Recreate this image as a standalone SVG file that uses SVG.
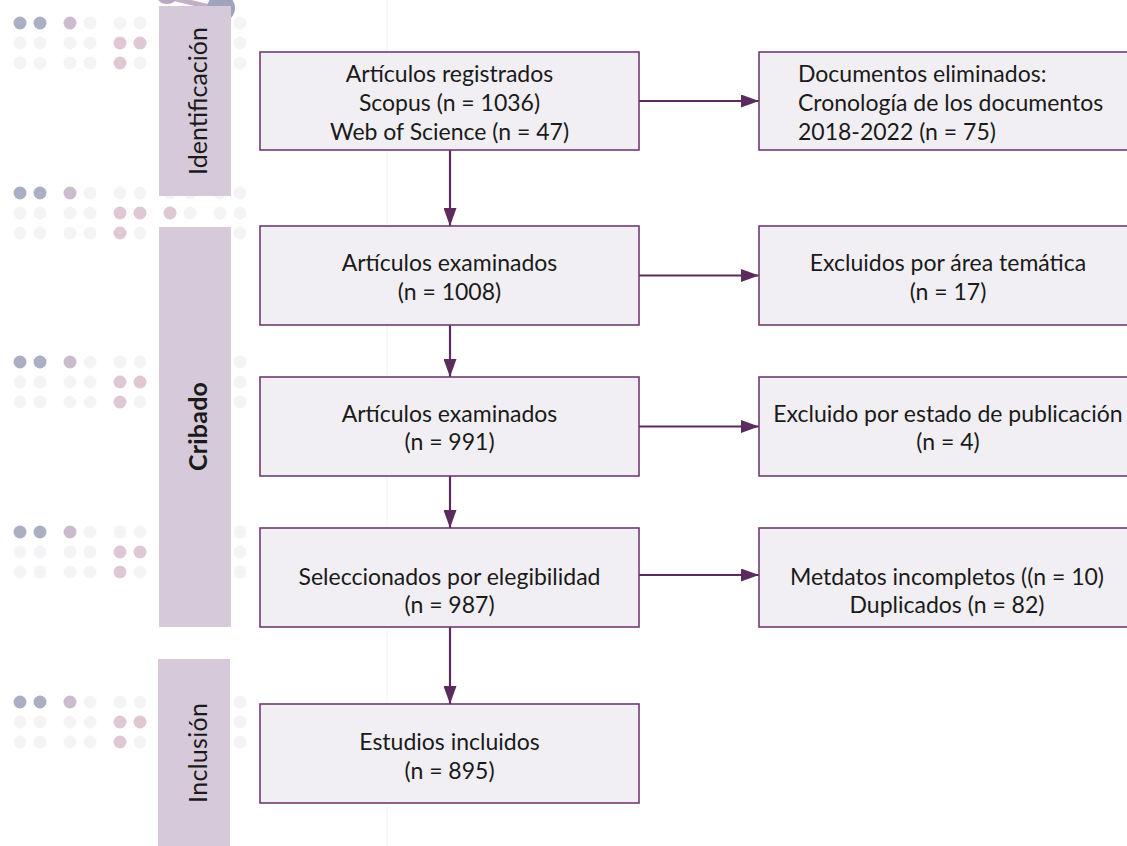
<svg xmlns="http://www.w3.org/2000/svg" width="1127" height="846" viewBox="0 0 1127 846">
<defs>
<style>
.box{fill:#f1eff3;stroke:#6e3d71;stroke-width:1.6}
.band{fill:#d6c9d9}
.t{font-family:Lato,"Open Sans","Liberation Sans",sans-serif;font-size:23px;fill:#1a1a1a}
.c{text-anchor:middle}
.side{font-family:Lato,"Open Sans","Liberation Sans",sans-serif;font-size:25px;fill:#1a1a1a;text-anchor:middle}
.conn{stroke:#5b2b5e;stroke-width:2.2;fill:none}
.f{fill:#f4f3f6}
.g{fill:#abafc4}
.m{fill:#cbbccd}
.p{fill:#dfc7d3}
</style>
<marker id="ah" markerUnits="userSpaceOnUse" markerWidth="19" markerHeight="13" refX="18" refY="6.5" orient="auto">
<path d="M0,0 L18,6.5 L0,13 Z" fill="#5b2b5e"/>
</marker>
<g id="dotgroup">
<circle class="g" cx="20" cy="0" r="6.5"/><circle class="g" cx="40" cy="0" r="6.5"/><circle class="m" cx="70" cy="0" r="6.5"/><circle class="f" cx="90" cy="0" r="6.5"/><circle class="f" cx="120" cy="0" r="6.5"/><circle class="f" cx="140" cy="0" r="6.5"/><circle class="f" cx="170" cy="0" r="6.5"/><circle class="f" cx="190" cy="0" r="6.5"/><circle class="f" cx="220" cy="0" r="6.5"/><circle class="f" cx="240" cy="0" r="6.5"/>
<circle class="f" cx="20" cy="20" r="6.5"/><circle class="f" cx="40" cy="20" r="6.5"/><circle class="f" cx="70" cy="20" r="6.5"/><circle class="f" cx="90" cy="20" r="6.5"/><circle class="p" cx="120" cy="20" r="6.5"/><circle class="p" cx="140" cy="20" r="6.5"/><circle class="p" cx="170" cy="20" r="6.5"/><circle class="f" cx="190" cy="20" r="6.5"/><circle class="f" cx="220" cy="20" r="6.5"/><circle class="f" cx="240" cy="20" r="6.5"/>
<circle class="f" cx="20" cy="40" r="6.5"/><circle class="f" cx="40" cy="40" r="6.5"/><circle class="f" cx="70" cy="40" r="6.5"/><circle class="f" cx="90" cy="40" r="6.5"/><circle class="p" cx="120" cy="40" r="6.5"/><circle class="f" cx="140" cy="40" r="6.5"/><circle class="f" cx="170" cy="40" r="6.5"/><circle class="f" cx="190" cy="40" r="6.5"/><circle class="f" cx="220" cy="40" r="6.5"/><circle class="f" cx="240" cy="40" r="6.5"/>
</g>
</defs>
<rect width="1127" height="846" fill="#ffffff"/>
<line x1="387" y1="0" x2="387" y2="846" stroke="#f3f3f3" stroke-width="1"/>
<g id="decoration">
<use href="#dotgroup" x="0" y="23"/>
<use href="#dotgroup" x="0" y="193"/>
<use href="#dotgroup" x="0" y="362"/>
<use href="#dotgroup" x="0" y="532"/>
<use href="#dotgroup" x="0" y="702"/>
<line x1="172" y1="-2" x2="214" y2="8" stroke="#c3afc6" stroke-width="5"/>
<circle cx="167" cy="-8" r="12" fill="#bca6c0"/>
<circle cx="221" cy="8" r="14" fill="#9fa3bb"/>
</g>
<g id="band-identificacion">
<rect class="band" x="159" y="6" width="72" height="190"/>
<text class="side" transform="translate(207,101) rotate(-90)" textLength="148">Identificación</text>
</g>
<g id="band-cribado">
<rect class="band" x="159" y="227" width="72" height="400"/>
<text class="side" font-weight="bold" transform="translate(207,426.5) rotate(-90)" textLength="89">Cribado</text>
</g>
<g id="band-inclusion">
<rect class="band" x="158" y="659" width="72" height="187"/>
<text class="side" transform="translate(207,753) rotate(-90)" textLength="100">Inclusión</text>
</g>
<g id="connectors">
<line class="conn" x1="450" y1="150" x2="450" y2="226" marker-end="url(#ah)"/>
<line class="conn" x1="450" y1="325" x2="450" y2="377" marker-end="url(#ah)"/>
<line class="conn" x1="450" y1="476" x2="450" y2="528" marker-end="url(#ah)"/>
<line class="conn" x1="450" y1="627" x2="450" y2="704" marker-end="url(#ah)"/>
<line class="conn" x1="639" y1="101" x2="759" y2="101" marker-end="url(#ah)"/>
<line class="conn" x1="639" y1="275.5" x2="759" y2="275.5" marker-end="url(#ah)"/>
<line class="conn" x1="639" y1="426.5" x2="759" y2="426.5" marker-end="url(#ah)"/>
<line class="conn" x1="639" y1="575" x2="759" y2="575" marker-end="url(#ah)"/>
</g>
<g id="node-registrados">
<rect class="box" x="260" y="52" width="379" height="98"/>
<text class="t c" x="449.5" y="82">Artículos registrados</text>
<text class="t c" x="449.5" y="111">Scopus (n = 1036)</text>
<text class="t c" x="449.5" y="140">Web of Science (n = 47)</text>
</g>
<g id="node-eliminados">
<rect class="box" x="759" y="52" width="378" height="98"/>
<text class="t" x="798" y="82">Documentos eliminados:</text>
<text class="t" x="798" y="111">Cronología de los documentos</text>
<text class="t" x="798" y="140">2018-2022 (n = 75)</text>
</g>
<g id="node-examinados1">
<rect class="box" x="260" y="226" width="379" height="99"/>
<text class="t c" x="449.5" y="271">Artículos examinados</text>
<text class="t c" x="449.5" y="300">(n = 1008)</text>
</g>
<g id="node-area">
<rect class="box" x="759" y="226" width="378" height="99"/>
<text class="t c" x="948" y="271">Excluidos por área temática</text>
<text class="t c" x="948" y="300">(n = 17)</text>
</g>
<g id="node-examinados2">
<rect class="box" x="260" y="377" width="379" height="99"/>
<text class="t c" x="449.5" y="422">Artículos examinados</text>
<text class="t c" x="449.5" y="450">(n = 991)</text>
</g>
<g id="node-estado">
<rect class="box" x="759" y="377" width="378" height="99"/>
<text class="t c" x="948" y="422">Excluido por estado de publicación</text>
<text class="t c" x="948" y="450">(n = 4)</text>
</g>
<g id="node-seleccionados">
<rect class="box" x="260" y="528" width="379" height="99"/>
<text class="t c" x="449.5" y="585">Seleccionados por elegibilidad</text>
<text class="t c" x="449.5" y="613">(n = 987)</text>
</g>
<g id="node-metadatos">
<rect class="box" x="759" y="528" width="378" height="99"/>
<text class="t c" x="947" y="585">Metdatos incompletos ((n = 10)</text>
<text class="t c" x="947" y="613">Duplicados (n = 82)</text>
</g>
<g id="node-incluidos">
<rect class="box" x="260" y="704" width="379" height="99"/>
<text class="t c" x="449.5" y="750">Estudios incluidos</text>
<text class="t c" x="449.5" y="779">(n = 895)</text>
</g>
</svg>
